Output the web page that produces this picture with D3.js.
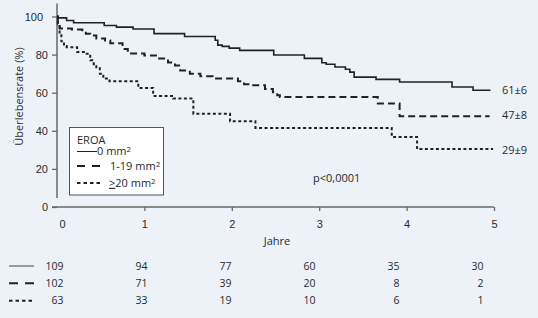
<!DOCTYPE html>
<html>
<head>
<meta charset="utf-8">
<script src="https://cdn.jsdelivr.net/npm/d3@7"></script>
<style>
  body { margin: 0; background: #edf2f9; }
  svg { display: block; font-family: "Open Sans", "Noto Sans", sans-serif; }
  text { fill: #2a2a2a; }
</style>
</head>
<body>
<svg id="chart" width="538" height="318"></svg>
<script>
// Kaplan-Meier steps: [jahre, ueberleben %]
const years = [0, 1, 2, 3, 4, 5];
const yTicks = [0, 20, 40, 60, 80, 100];
const groups = ['0 mm', '1-19 mm', '20 mm'];
const endLabels = ['61±6', '47±8', '29±9'];

const steps0 = [[0, 99.3], [0.11, 97.9], [0.19, 96.7], [0.54, 95.3], [0.68, 94.4], [0.87, 93.4],
  [1.11, 91.0], [1.46, 89.5], [1.81, 87.5], [1.84, 85.0], [1.89, 84.3], [1.97, 83.4], [2.09, 82.2],
  [2.48, 79.8], [2.83, 78.0], [3.03, 75.7], [3.08, 74.9], [3.18, 73.5], [3.30, 72.3], [3.35, 70.8],
  [3.40, 68.2], [3.65, 67.0], [3.92, 65.6], [4.52, 63.0], [4.76, 61.3], [4.96, 61.3]];
const steps1 = [[0, 100], [0.01, 97], [0.03, 93.7], [0.17, 93.2], [0.29, 92.1], [0.33, 91.0],
  [0.38, 90.0], [0.45, 88.5], [0.55, 87.4], [0.61, 85.9], [0.75, 83.0], [0.81, 80.6], [1.0, 79.5],
  [1.15, 78.0], [1.27, 75.9], [1.35, 74.3], [1.41, 71.7], [1.52, 70.0], [1.64, 68.6], [1.78, 67.5],
  [2.07, 66.0], [2.14, 64.5], [2.21, 63.9], [2.38, 62.0], [2.47, 60.2], [2.52, 58.6], [2.55, 57.7],
  [3.67, 54.3], [3.92, 47.6], [4.95, 47.6]];
const steps2 = [[0, 100], [0.01, 96], [0.03, 91], [0.05, 87], [0.08, 84.5], [0.11, 83.9],
  [0.23, 81.3], [0.34, 80.4], [0.38, 77.0], [0.42, 75.0], [0.45, 73.4], [0.49, 70.0], [0.53, 67.4],
  [0.60, 66.0], [0.93, 62.5], [1.10, 58.3], [1.33, 56.9], [1.56, 49.0], [1.98, 45.0], [2.27, 41.5],
  [3.83, 36.8], [4.12, 30.4], [4.99, 30.4]];

// Patienten unter Risiko
const atRisk0 = [109, 94, 77, 60, 35, 30];
const atRisk1 = [102, 71, 39, 20, 8, 2];
const atRisk2 = [63, 33, 19, 10, 6, 1];

const series = [steps0, steps1, steps2];
const riskRows = [atRisk0, atRisk1, atRisk2];
const dashes = [null, '7,4', '3,2.5'];
const widths = [1.6, 2, 2];

const svg = d3.select('#chart');
const ink = '#222';
const axisCol = '#666';

const x = d3.scaleLinear().domain([0, 5]).range([57, 494]);
const y = d3.scaleLinear().domain([0, 100]).range([207, 16.5]);

// y axis
const yAxis = svg.append('g')
  .attr('transform', `translate(${x(0)},0)`)
  .call(d3.axisLeft(y).tickValues(yTicks).tickSize(5).tickPadding(4));
yAxis.select('.domain').remove();
yAxis.append('line')
  .attr('x1', 0).attr('x2', 0)
  .attr('y1', y(100) - 13).attr('y2', y(0) - 9)
  .attr('stroke', axisCol).attr('stroke-width', 1.5);
yAxis.selectAll('.tick line').attr('stroke', axisCol).attr('stroke-width', 1.3);
yAxis.selectAll('.tick text')
  .style('font-size', '11px').attr('fill', '#2a2a2a')
  .attr('dx', d => d === 100 ? -5 : 0);

// x axis
const xAxis = svg.append('g')
  .attr('transform', `translate(0,${y(0)})`)
  .call(d3.axisBottom(x).tickValues(years).tickFormat(d3.format('d')).tickSize(4).tickSizeOuter(0));
xAxis.select('.domain').remove();
xAxis.append('line')
  .attr('x1', x(0) - 5).attr('x2', x(5))
  .attr('stroke', axisCol).attr('stroke-width', 1.5);
xAxis.selectAll('.tick line')
  .attr('stroke', axisCol).attr('stroke-width', 1.3)
  .attr('opacity', d => d === 0 ? 0 : 1);
xAxis.selectAll('.tick text')
  .style('font-size', '11px').attr('fill', '#2a2a2a')
  .attr('y', 17).attr('dy', '0.35em')
  .attr('dx', d => d === 0 ? 5 : 0);

// axis titles
svg.append('text')
  .attr('transform', 'translate(19,96.5) rotate(-90)')
  .attr('text-anchor', 'middle').attr('dy', '0.35em')
  .style('font-size', '11px')
  .text('Überlebensrate (%)');
svg.append('text')
  .attr('x', 277).attr('y', 241).attr('dy', '0.35em')
  .attr('text-anchor', 'middle').style('font-size', '11px')
  .text('Jahre');

// curves
const line = d3.line()
  .x(d => x(d[0]))
  .y(d => y(d[1]))
  .curve(d3.curveStepAfter);

series.forEach((s, i) => {
  svg.append('path')
    .datum(s)
    .attr('d', line)
    .attr('fill', 'none')
    .attr('stroke', ink)
    .attr('stroke-width', widths[i])
    .attr('stroke-dasharray', dashes[i]);
  const last = s[s.length - 1];
  svg.append('text')
    .attr('x', 502).attr('y', y(last[1]) + (i === 0 ? 0 : i === 1 ? -1 : 1))
    .attr('dy', '0.35em')
    .style('font-size', '11px')
    .text(endLabels[i]);
});

// p-Wert
svg.append('text')
  .attr('x', 313).attr('y', 178.5).attr('dy', '0.35em')
  .style('font-size', '11px')
  .text('p<0,0001');

// legend
const leg = svg.append('g');
leg.append('rect')
  .attr('x', 69.5).attr('y', 127.5).attr('width', 94).attr('height', 67.5)
  .attr('fill', '#fff').attr('stroke', '#555').attr('stroke-width', 1);
leg.append('text')
  .attr('x', 77).attr('y', 140).attr('dy', '0.35em')
  .style('font-size', '11px').text('EROA');

const legRows = [151.5, 166, 183];
const legDash = [null, '8,7', '3.5,3'];
const legTextX = [97, 110, 109];
groups.forEach((g, i) => {
  leg.append('line')
    .attr('x1', 77).attr('x2', i === 0 ? 97 : 100)
    .attr('y1', legRows[i]).attr('y2', legRows[i])
    .attr('stroke', ink)
    .attr('stroke-width', i === 0 ? 1 : 2)
    .attr('stroke-dasharray', legDash[i]);
  const t = leg.append('text')
    .attr('x', legTextX[i]).attr('y', legRows[i]).attr('dy', '0.35em')
    .style('font-size', '11px');
  if (i === 2) {
    t.append('tspan').style('text-decoration', 'underline').text('>');
  }
  t.append('tspan').text(g);
  t.append('tspan').attr('dy', '-0.4em').style('font-size', '8px').text('2');
});

// number at risk table
const xr = d3.scaleLinear().domain([0, 5]).range([63.5, 483.5]);
const riskY = [266, 283.3, 300.7];
const riskDash = [null, '9,7', '3.5,3'];
riskRows.forEach((row, i) => {
  svg.append('line')
    .attr('x1', 9).attr('x2', 34)
    .attr('y1', riskY[i]).attr('y2', riskY[i])
    .attr('stroke', i === 0 ? '#444' : ink)
    .attr('stroke-width', i === 0 ? 1 : 2)
    .attr('stroke-dasharray', riskDash[i]);
  svg.selectAll(null)
    .data(row)
    .enter()
    .append('text')
    .attr('x', (d, j) => xr(years[j]))
    .attr('y', riskY[i]).attr('dy', '0.35em')
    .attr('text-anchor', 'end')
    .style('font-size', '10.5px')
    .text(d => d);
});
</script>
</body>
</html>
